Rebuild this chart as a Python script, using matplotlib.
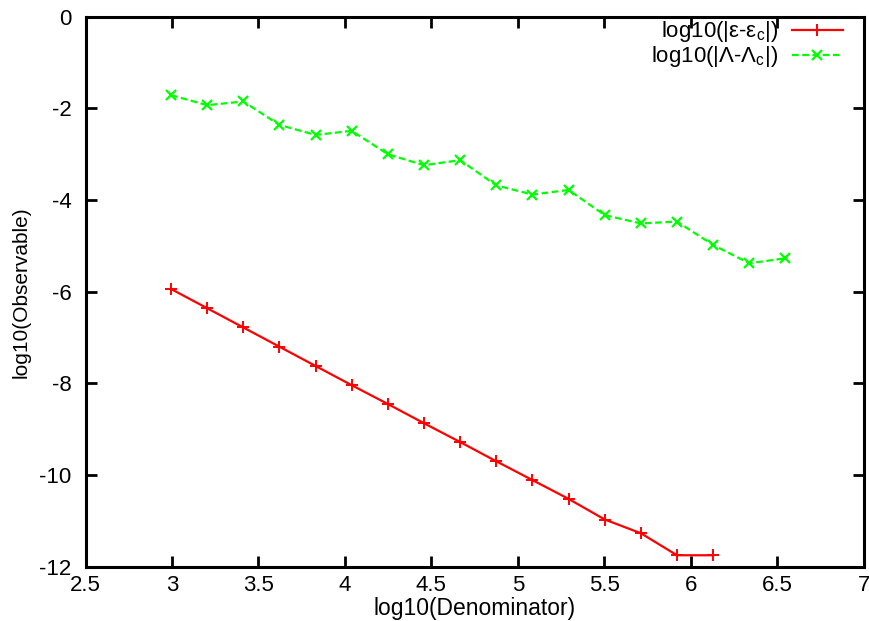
import numpy as np
import matplotlib
matplotlib.use("Agg")
import matplotlib.pyplot as plt

plt.rcParams["font.family"] = ["Liberation Sans", "DejaVu Sans"]
plt.rcParams["axes.unicode_minus"] = False

# log10 of Fibonacci denominators F_16 .. F_33
fib = [987, 1597, 2584, 4181, 6765, 10946, 17711, 28657, 46368, 75025,
       121393, 196418, 317811, 514229, 832040, 1346269, 2178309, 3524578]
x_all = np.log10(np.array(fib, dtype=float))

eps_err = [-5.94, -6.36, -6.78, -7.20, -7.62, -8.04, -8.45, -8.87,
           -9.28, -9.70, -10.11, -10.52, -10.97, -11.27, -11.75, -11.75]
lam_err = [-1.71, -1.93, -1.85, -2.36, -2.58, -2.49, -3.00, -3.24, -3.13,
           -3.68, -3.88, -3.78, -4.33, -4.51, -4.47, -4.98, -5.38, -5.27]

fig = plt.figure(figsize=(8.69, 6.21), dpi=100)
ax = fig.add_axes([0.0984, 0.0874, 0.8956, 0.8857])

ax.plot(x_all[:len(eps_err)], eps_err, color="#ff0000", lw=1.6,
        marker="+", ms=8, mew=1.4,
        label="log10(|ε-ε$_\\mathregular{c}$|)")
ax.plot(x_all[:len(lam_err)], lam_err, color="#00ff00", lw=1.6,
        linestyle=(0, (3, 1.6)), marker="x", ms=7, mew=1.6,
        label="log10(|Λ-Λ$_\\mathregular{c}$|)")

ax.set_xlim(2.5, 7)
ax.set_ylim(-12, 0)
ax.set_xticks(np.arange(2.5, 7.01, 0.5))
ax.set_xticklabels(["2.5", "3", "3.5", "4", "4.5", "5", "5.5", "6", "6.5", "7"])
ax.set_yticks(np.arange(-12, 0.1, 2))
ax.tick_params(direction="in", length=8, width=2, top=True, right=True,
               labelsize=16)
ax.tick_params(axis="x", pad=6)
ax.tick_params(axis="y", pad=10)
for s in ax.spines.values():
    s.set_linewidth(2.2)

ax.set_xlabel("log10(Denominator)", fontsize=16.5, labelpad=1)
ax.set_ylabel("log10(Observable)", fontsize=15, labelpad=6)

ax.legend(loc="upper right", frameon=False, markerfirst=False, fontsize=16,
          handlelength=2.3, labelspacing=0.0, borderaxespad=0, borderpad=0,
          handletextpad=0.6, bbox_to_anchor=(0.973, 0.995))

fig.savefig("out.png", dpi=100)
